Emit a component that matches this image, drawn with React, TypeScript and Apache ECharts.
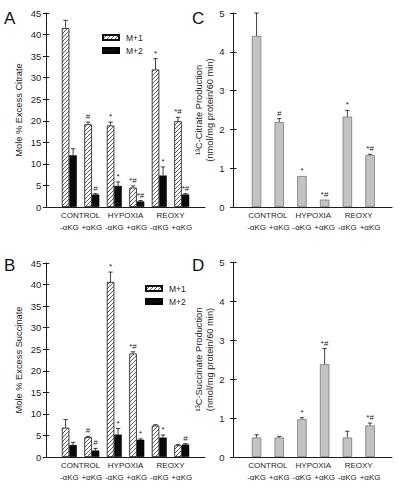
import React, { useEffect, useRef } from 'react';
import * as echarts from 'echarts';

// ---------- data ----------
const categories = ['-αKG', '+αKG', '-αKG', '+αKG', '-αKG', '+αKG'];
const groups = ['CONTROL', 'HYPOXIA', 'REOXY'];
const seriesNames = ['M+1', 'M+2'];

// Panel A: Mole % excess citrate
const citrateM1 = [41.5, 19.2, 18.9, 4.5, 31.9, 19.9];
const citrateM1Err = [1.8, 0.5, 0.8, 0.4, 2.5, 0.9];
const citrateM1Sig = ['', '#', '*', '*#', '*', '*#'];
const citrateM2 = [12.0, 2.9, 4.9, 1.3, 7.3, 2.9];
const citrateM2Err = [1.5, 0.2, 0.9, 0.2, 2.0, 0.2];
const citrateM2Sig = ['', '#', '*', '*#', '*', '*#'];

// Panel B: Mole % excess succinate
const succM1 = [6.8, 4.6, 40.6, 24.0, 7.3, 2.7];
const succM1Err = [1.9, 0.2, 2.3, 0.4, 0.2, 0.2];
const succM1Sig = ['', '#', '*', '*#', '', ''];
const succM2 = [2.8, 1.5, 5.2, 4.0, 4.5, 2.9];
const succM2Err = [0.6, 0.5, 1.4, 0.2, 0.6, 0.2];
const succM2Sig = ['', '#', '*', '*', '*', '#'];

// Panel C: 13C-citrate production
const citrateProd = [4.41, 2.19, 0.8, 0.19, 2.33, 1.34];
const citrateProdErr = [0.59, 0.09, 0.0, 0.0, 0.16, 0.02];
const citrateProdSig = ['', '#', '*', '*#', '*', '*#'];

// Panel D: 13C-succinate production
const succProd = [0.5, 0.5, 0.97, 2.38, 0.5, 0.81];
const succProdErr = [0.07, 0.03, 0.04, 0.4, 0.16, 0.06];
const succProdSig = ['', '', '*', '*#', '', '*#'];

const yTicksPercent = { max: 45, interval: 5 };
const yTicksProd = { max: 5, interval: 1 };

// ---------- style ----------
const FONT = '"Liberation Sans", Arial, Helvetica, sans-serif';
const INK = '#1c1c1c';

// "////" hatch tile
const hatchSvg =
  "<svg xmlns='http://www.w3.org/2000/svg' width='4' height='4'>" +
  "<rect width='4' height='4' fill='#ffffff'/>" +
  "<path d='M0,4L4,0M-1,1L1,-1M3,5L5,3' stroke='#2a2a2a' stroke-width='0.75'/></svg>";
const hatchFill = {
  image: 'data:image/svg+xml;charset=utf-8,' + encodeURIComponent(hatchSvg),
  repeat: 'repeat',
  imageWidth: 4,
  imageHeight: 4,
};

const hatchStyle = { color: hatchFill, borderColor: '#111', borderWidth: 0.8 };
const solidStyle = { color: '#0a0a0a', borderColor: '#000', borderWidth: 0.5 };
const grayStyle = { color: '#c3c3c3', borderColor: '#7a7a7a', borderWidth: 0.8 };

type BarDef = {
  name: string;
  values: number[];
  errors: number[];
  sig: string[];
  style: any;
};

type PanelDef = {
  letter: string;
  letterX: number;
  letterY: number;
  axisX: number;
  barsLeft: number;
  barsWidth: number;
  lineRight: number;
  top: number;
  height: number;
  yMax: number;
  interval: number;
  yName: string;
  nameGap: number;
  labelMargin: number;
  barWidth: number;
  bars: BarDef[];
  legend?: { left: number; top: number };
};

const panels: PanelDef[] = [
  {
    letter: 'A', letterX: 4, letterY: 19,
    axisX: 46.3, barsLeft: 58.1, barsWidth: 134.9, lineRight: 205,
    top: 13, height: 194, yMax: yTicksPercent.max, interval: yTicksPercent.interval,
    yName: 'Mole % Excess Citrate', nameGap: 22, labelMargin: 5, barWidth: 7.5,
    bars: [
      { name: seriesNames[0], values: citrateM1, errors: citrateM1Err, sig: citrateM1Sig, style: hatchStyle },
      { name: seriesNames[1], values: citrateM2, errors: citrateM2Err, sig: citrateM2Sig, style: solidStyle },
    ],
    legend: { left: 97, top: 28 },
  },
  {
    letter: 'B', letterX: 4, letterY: 266,
    axisX: 46.3, barsLeft: 58.1, barsWidth: 134.9, lineRight: 205,
    top: 263, height: 194, yMax: yTicksPercent.max, interval: yTicksPercent.interval,
    yName: 'Mole % Excess Succinate', nameGap: 22, labelMargin: 5, barWidth: 7.5,
    bars: [
      { name: seriesNames[0], values: succM1, errors: succM1Err, sig: succM1Sig, style: hatchStyle },
      { name: seriesNames[1], values: succM2, errors: succM2Err, sig: succM2Sig, style: solidStyle },
    ],
    legend: { left: 140, top: 279 },
  },
  {
    letter: 'C', letterX: 192, letterY: 19,
    axisX: 233.5, barsLeft: 245.2, barsWidth: 136.2, lineRight: 392,
    top: 13, height: 194, yMax: yTicksProd.max, interval: yTicksProd.interval,
    yName: '¹³C-Citrate Production\n(nmol/mg protein/60 min)', nameGap: 16, labelMargin: 9, barWidth: 9.5,
    bars: [
      { name: 'citrate', values: citrateProd, errors: citrateProdErr, sig: citrateProdSig, style: grayStyle },
    ],
  },
  {
    letter: 'D', letterX: 192, letterY: 266,
    axisX: 233.5, barsLeft: 245.2, barsWidth: 136.2, lineRight: 392,
    top: 262, height: 195, yMax: yTicksProd.max, interval: yTicksProd.interval,
    yName: '¹³C-Succinate Production\n(nmol/mg protein/60 min)', nameGap: 16, labelMargin: 9, barWidth: 9.5,
    bars: [
      { name: 'succinate', values: succProd, errors: succProdErr, sig: succProdSig, style: grayStyle },
    ],
  },
];

function buildOption() {
  const grid: any[] = [];
  const xAxis: any[] = [];
  const yAxis: any[] = [];
  const series: any[] = [];
  const legend: any[] = [];
  const graphic: any[] = [];

  panels.forEach((p, pi) => {
    const gBars = pi * 2;
    const gLine = pi * 2 + 1;
    const ax = pi * 3;
    const offset = p.barsLeft - p.axisX;

    grid.push({ left: p.barsLeft, width: p.barsWidth, top: p.top, height: p.height, containLabel: false });
    grid.push({ left: p.axisX, width: p.lineRight - p.axisX, top: p.top, height: p.height, containLabel: false });

    // category axis (treatment row)
    xAxis.push({
      type: 'category', gridIndex: gBars, position: 'bottom', data: categories,
      axisLine: { show: false }, axisTick: { show: false },
      axisLabel: { interval: 0, margin: 16, fontSize: 8, color: INK, fontFamily: FONT },
    });
    // group row
    xAxis.push({
      type: 'category', gridIndex: gBars, position: 'bottom', data: groups,
      axisLine: { show: false }, axisTick: { show: false },
      axisLabel: { interval: 0, margin: 4, fontSize: 8, color: INK, fontFamily: FONT },
    });
    // axis line spanning full width
    xAxis.push({
      type: 'value', gridIndex: gLine, position: 'bottom', min: 0, max: 1,
      axisLine: { show: true, onZero: false, lineStyle: { color: INK, width: 1 } },
      axisTick: { show: false }, axisLabel: { show: false }, splitLine: { show: false },
    });

    yAxis.push({
      type: 'value', gridIndex: gBars, position: 'left', offset,
      min: 0, max: p.yMax, interval: p.interval,
      name: p.yName, nameLocation: 'middle', nameGap: p.nameGap,
      nameTextStyle: { fontSize: 9.3, color: INK, fontFamily: FONT, lineHeight: 11 },
      axisLine: { show: true, lineStyle: { color: INK, width: 1 } },
      axisTick: { show: true, inside: false, length: 3.5, lineStyle: { color: INK, width: 1 } },
      axisLabel: { margin: p.labelMargin, fontSize: 9.5, color: INK, fontFamily: FONT },
      splitLine: { show: false },
    });
    yAxis.push({
      type: 'value', gridIndex: gBars, position: 'left', offset,
      min: 0, max: p.yMax, interval: p.interval,
      axisLine: { show: false },
      axisTick: { show: true, inside: true, length: 3, lineStyle: { color: INK, width: 1 } },
      axisLabel: { show: false }, splitLine: { show: false },
    });
    yAxis.push({ type: 'value', gridIndex: gLine, show: false, min: 0, max: 1 });

    const nBars = p.bars.length;
    p.bars.forEach((b) => {
      series.push({
        type: 'bar', name: b.name, xAxisIndex: ax, yAxisIndex: ax,
        data: b.values, barWidth: p.barWidth, barGap: '0%',
        itemStyle: b.style, z: 2,
      });
    });
    p.bars.forEach((b, bi) => {
      const shift = (bi - (nBars - 1) / 2) * p.barWidth;
      series.push({
        type: 'custom', name: `err-${pi}-${bi}`, xAxisIndex: ax, yAxisIndex: ax,
        clip: false, z: 5,
        data: b.values.map((v, i) => [i, v, b.errors[i]]),
        renderItem: (params: any, api: any) => {
          const i = api.value(0);
          const v = api.value(1);
          const e = api.value(2);
          const base = api.coord([i, v]);
          const topPt = api.coord([i, v + e]);
          const x = base[0] + shift;
          const children: any[] = [];
          if (e > 0) {
            children.push({
              type: 'line',
              shape: { x1: x, y1: base[1], x2: x, y2: topPt[1] },
              style: { stroke: '#111', lineWidth: 0.8 },
            });
            children.push({
              type: 'line',
              shape: { x1: x - 2.2, y1: topPt[1], x2: x + 2.2, y2: topPt[1] },
              style: { stroke: '#111', lineWidth: 0.8 },
            });
          }
          const s = b.sig[params.dataIndex];
          if (s) {
            children.push({
              type: 'text',
              x,
              y: topPt[1] - 1.5,
              style: {
                text: s, fill: INK, fontSize: 8, fontFamily: FONT,
                align: 'center', verticalAlign: 'bottom',
                textAlign: 'center', textVerticalAlign: 'bottom',
              },
            });
          }
          return { type: 'group', children };
        },
      });
    });

    if (p.legend) {
      legend.push({
        data: seriesNames, orient: 'vertical', left: p.legend.left, top: p.legend.top,
        itemWidth: 16, itemHeight: 5, itemGap: 4, icon: 'rect', selectedMode: false,
        textStyle: { fontSize: 8.5, color: INK, fontFamily: FONT, padding: [0, 0, 0, 2] },
      });
    }

    graphic.push({
      type: 'text', left: p.letterX, top: p.letterY - 9,
      style: { text: p.letter, fontSize: 17, fill: '#111', fontFamily: FONT },
    });
  });

  return {
    animation: false,
    backgroundColor: '#ffffff',
    textStyle: { fontFamily: FONT },
    grid, xAxis, yAxis, series, legend, graphic,
  };
}

export default function App() {
  const ref = useRef<HTMLDivElement>(null);
  useEffect(() => {
    if (!ref.current) return;
    const chart = echarts.init(ref.current, null, { renderer: 'svg' });
    chart.setOption(buildOption() as any);
    return () => chart.dispose();
  }, []);
  return (
    <div
      ref={ref}
      style={{ position: 'fixed', left: 0, top: 0, width: 402, height: 488, background: '#fff' }}
    />
  );
}
